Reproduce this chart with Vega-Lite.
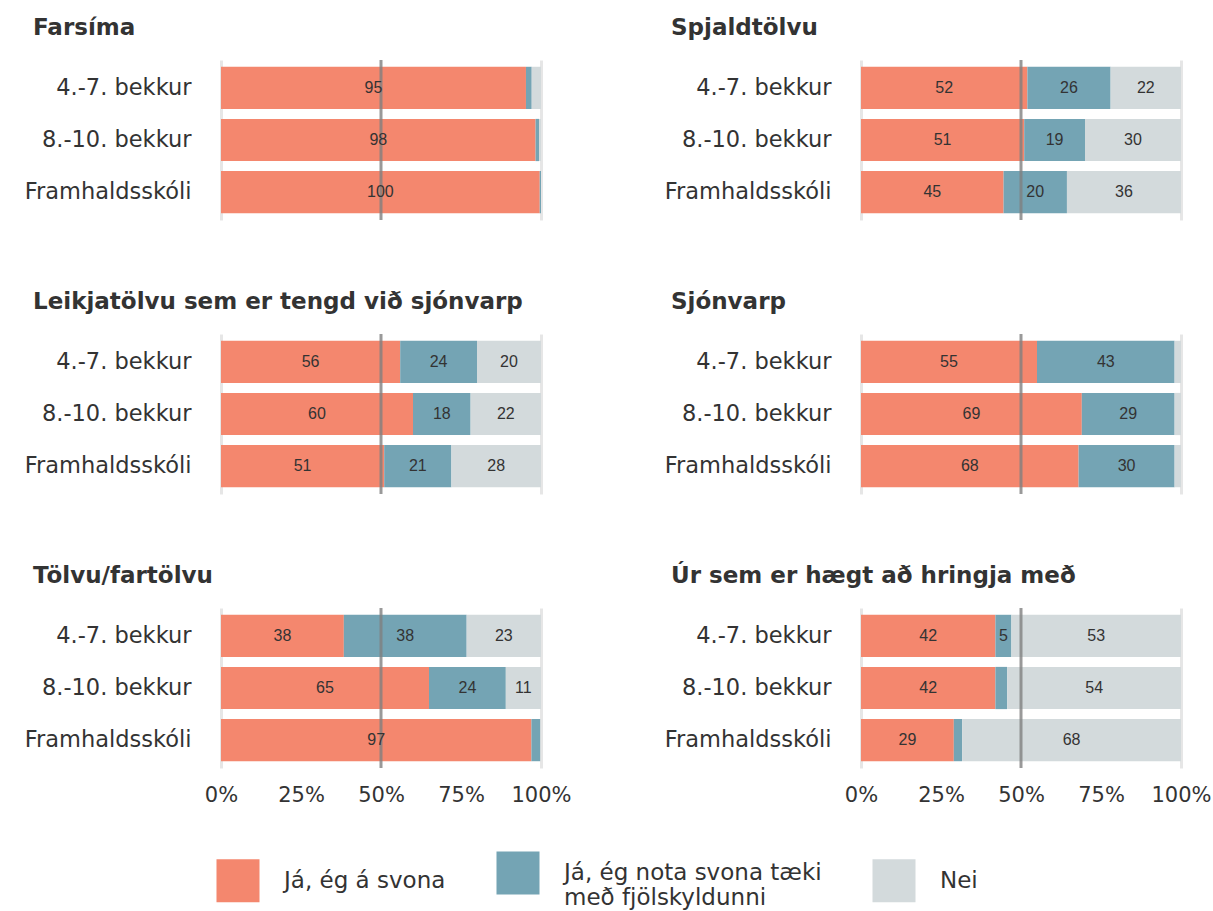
{
  "$schema": "https://vega.github.io/schema/vega-lite/v6.json",
  "padding": {"left": 10, "top": 16, "right": 20, "bottom": 10},
  "background": "white",
  "data": {"values": [
    {"taeki": "Farsíma", "hopur": "4.-7. bekkur", "svar": "Já, ég á svona", "v": 95.3},
    {"taeki": "Farsíma", "hopur": "4.-7. bekkur", "svar": "Já, ég nota svona tæki með fjölskyldunni", "v": 1.8},
    {"taeki": "Farsíma", "hopur": "4.-7. bekkur", "svar": "Nei", "v": 2.9},
    {"taeki": "Farsíma", "hopur": "8.-10. bekkur", "svar": "Já, ég á svona", "v": 98.3},
    {"taeki": "Farsíma", "hopur": "8.-10. bekkur", "svar": "Já, ég nota svona tæki með fjölskyldunni", "v": 1.1},
    {"taeki": "Farsíma", "hopur": "8.-10. bekkur", "svar": "Nei", "v": 0.6},
    {"taeki": "Farsíma", "hopur": "Framhaldsskóli", "svar": "Já, ég á svona", "v": 99.6},
    {"taeki": "Farsíma", "hopur": "Framhaldsskóli", "svar": "Já, ég nota svona tæki með fjölskyldunni", "v": 0.4},
    {"taeki": "Farsíma", "hopur": "Framhaldsskóli", "svar": "Nei", "v": 0},
    {"taeki": "Spjaldtölvu", "hopur": "4.-7. bekkur", "svar": "Já, ég á svona", "v": 52},
    {"taeki": "Spjaldtölvu", "hopur": "4.-7. bekkur", "svar": "Já, ég nota svona tæki með fjölskyldunni", "v": 26},
    {"taeki": "Spjaldtölvu", "hopur": "4.-7. bekkur", "svar": "Nei", "v": 22},
    {"taeki": "Spjaldtölvu", "hopur": "8.-10. bekkur", "svar": "Já, ég á svona", "v": 51},
    {"taeki": "Spjaldtölvu", "hopur": "8.-10. bekkur", "svar": "Já, ég nota svona tæki með fjölskyldunni", "v": 19},
    {"taeki": "Spjaldtölvu", "hopur": "8.-10. bekkur", "svar": "Nei", "v": 30},
    {"taeki": "Spjaldtölvu", "hopur": "Framhaldsskóli", "svar": "Já, ég á svona", "v": 45},
    {"taeki": "Spjaldtölvu", "hopur": "Framhaldsskóli", "svar": "Já, ég nota svona tæki með fjölskyldunni", "v": 20},
    {"taeki": "Spjaldtölvu", "hopur": "Framhaldsskóli", "svar": "Nei", "v": 36},
    {"taeki": "Leikjatölvu sem er tengd við sjónvarp", "hopur": "4.-7. bekkur", "svar": "Já, ég á svona", "v": 56},
    {"taeki": "Leikjatölvu sem er tengd við sjónvarp", "hopur": "4.-7. bekkur", "svar": "Já, ég nota svona tæki með fjölskyldunni", "v": 24},
    {"taeki": "Leikjatölvu sem er tengd við sjónvarp", "hopur": "4.-7. bekkur", "svar": "Nei", "v": 20},
    {"taeki": "Leikjatölvu sem er tengd við sjónvarp", "hopur": "8.-10. bekkur", "svar": "Já, ég á svona", "v": 60},
    {"taeki": "Leikjatölvu sem er tengd við sjónvarp", "hopur": "8.-10. bekkur", "svar": "Já, ég nota svona tæki með fjölskyldunni", "v": 18},
    {"taeki": "Leikjatölvu sem er tengd við sjónvarp", "hopur": "8.-10. bekkur", "svar": "Nei", "v": 22},
    {"taeki": "Leikjatölvu sem er tengd við sjónvarp", "hopur": "Framhaldsskóli", "svar": "Já, ég á svona", "v": 51},
    {"taeki": "Leikjatölvu sem er tengd við sjónvarp", "hopur": "Framhaldsskóli", "svar": "Já, ég nota svona tæki með fjölskyldunni", "v": 21},
    {"taeki": "Leikjatölvu sem er tengd við sjónvarp", "hopur": "Framhaldsskóli", "svar": "Nei", "v": 28},
    {"taeki": "Sjónvarp", "hopur": "4.-7. bekkur", "svar": "Já, ég á svona", "v": 55},
    {"taeki": "Sjónvarp", "hopur": "4.-7. bekkur", "svar": "Já, ég nota svona tæki með fjölskyldunni", "v": 43},
    {"taeki": "Sjónvarp", "hopur": "4.-7. bekkur", "svar": "Nei", "v": 2},
    {"taeki": "Sjónvarp", "hopur": "8.-10. bekkur", "svar": "Já, ég á svona", "v": 69},
    {"taeki": "Sjónvarp", "hopur": "8.-10. bekkur", "svar": "Já, ég nota svona tæki með fjölskyldunni", "v": 29},
    {"taeki": "Sjónvarp", "hopur": "8.-10. bekkur", "svar": "Nei", "v": 2},
    {"taeki": "Sjónvarp", "hopur": "Framhaldsskóli", "svar": "Já, ég á svona", "v": 68},
    {"taeki": "Sjónvarp", "hopur": "Framhaldsskóli", "svar": "Já, ég nota svona tæki með fjölskyldunni", "v": 30},
    {"taeki": "Sjónvarp", "hopur": "Framhaldsskóli", "svar": "Nei", "v": 2},
    {"taeki": "Tölvu/fartölvu", "hopur": "4.-7. bekkur", "svar": "Já, ég á svona", "v": 38},
    {"taeki": "Tölvu/fartölvu", "hopur": "4.-7. bekkur", "svar": "Já, ég nota svona tæki með fjölskyldunni", "v": 38},
    {"taeki": "Tölvu/fartölvu", "hopur": "4.-7. bekkur", "svar": "Nei", "v": 23},
    {"taeki": "Tölvu/fartölvu", "hopur": "8.-10. bekkur", "svar": "Já, ég á svona", "v": 65},
    {"taeki": "Tölvu/fartölvu", "hopur": "8.-10. bekkur", "svar": "Já, ég nota svona tæki með fjölskyldunni", "v": 24},
    {"taeki": "Tölvu/fartölvu", "hopur": "8.-10. bekkur", "svar": "Nei", "v": 11},
    {"taeki": "Tölvu/fartölvu", "hopur": "Framhaldsskóli", "svar": "Já, ég á svona", "v": 97},
    {"taeki": "Tölvu/fartölvu", "hopur": "Framhaldsskóli", "svar": "Já, ég nota svona tæki með fjölskyldunni", "v": 2.7},
    {"taeki": "Tölvu/fartölvu", "hopur": "Framhaldsskóli", "svar": "Nei", "v": 0.3},
    {"taeki": "Úr sem er hægt að hringja með", "hopur": "4.-7. bekkur", "svar": "Já, ég á svona", "v": 42},
    {"taeki": "Úr sem er hægt að hringja með", "hopur": "4.-7. bekkur", "svar": "Já, ég nota svona tæki með fjölskyldunni", "v": 5},
    {"taeki": "Úr sem er hægt að hringja með", "hopur": "4.-7. bekkur", "svar": "Nei", "v": 53},
    {"taeki": "Úr sem er hægt að hringja með", "hopur": "8.-10. bekkur", "svar": "Já, ég á svona", "v": 42},
    {"taeki": "Úr sem er hægt að hringja með", "hopur": "8.-10. bekkur", "svar": "Já, ég nota svona tæki með fjölskyldunni", "v": 3.7},
    {"taeki": "Úr sem er hægt að hringja með", "hopur": "8.-10. bekkur", "svar": "Nei", "v": 54.3},
    {"taeki": "Úr sem er hægt að hringja með", "hopur": "Framhaldsskóli", "svar": "Já, ég á svona", "v": 29},
    {"taeki": "Úr sem er hægt að hringja með", "hopur": "Framhaldsskóli", "svar": "Já, ég nota svona tæki með fjölskyldunni", "v": 2.6},
    {"taeki": "Úr sem er hægt að hringja með", "hopur": "Framhaldsskóli", "svar": "Nei", "v": 68.4}
  ]},
  "transform": [
    {"calculate": "indexof(['Já, ég á svona', 'Já, ég nota svona tæki með fjölskyldunni', 'Nei'], datum.svar)", "as": "ord"},
    {"stack": "v", "groupby": ["taeki", "hopur"], "sort": [{"field": "ord", "order": "ascending"}], "offset": "normalize", "as": ["x0", "x1"]},
    {"calculate": "(datum.x0 + datum.x1) / 2", "as": "mid"}
  ],
  "columns": 2,
  "spacing": {"row": 68, "column": 78},
  "concat": [
    {
      "title": {"text": "Farsíma", "dx": 23},
      "width": 320, "height": 160,
      "transform": [{"filter": "datum.taeki == 'Farsíma'"}],
      "layer": [
        {"mark": {"type": "bar"},
         "encoding": {
           "y": {"field": "hopur", "type": "nominal", "sort": ["4.-7. bekkur", "8.-10. bekkur", "Framhaldsskóli"], "scale": {"paddingInner": 0.19, "paddingOuter": 0.13}},
           "x": {"field": "x0", "type": "quantitative", "scale": {"domain": [0, 1]}, "axis": {"values": [0, 0.25, 0.5, 0.75, 1], "format": ".0%", "labels": false, "gridOpacity": {"condition": {"test": "datum.value == 0 || datum.value == 1", "value": 1}, "value": 0}}},
           "x2": {"field": "x1"},
           "color": {"field": "svar", "type": "nominal", "scale": {"domain": ["Já, ég á svona", "Já, ég nota svona tæki með fjölskyldunni", "Nei"], "range": ["#f4876e", "#74a4b4", "#d3dadc"]}, "legend": {"title": null, "labelExpr": "indexof(datum.label, 'nota') >= 0 ? ['Já, ég nota svona tæki', 'með fjölskyldunni'] : datum.label"}}
         }},
        {"data": {"values": [{}]}, "mark": {"type": "rule", "color": "#808080", "strokeWidth": 3, "opacity": 0.8}, "encoding": {"x": {"datum": 0.5}}},
        {"transform": [{"filter": "datum.v >= 4.5"}], "mark": {"type": "text", "font": "Liberation Sans", "fontSize": 16, "color": "#333333"},
         "encoding": {
           "y": {"field": "hopur", "type": "nominal", "sort": ["4.-7. bekkur", "8.-10. bekkur", "Framhaldsskóli"]},
           "x": {"field": "mid", "type": "quantitative"},
           "text": {"field": "v", "type": "quantitative", "format": ".0f"}
         }}
      ]
    },
    {
      "title": {"text": "Spjaldtölvu", "dx": 21},
      "width": 320, "height": 160,
      "transform": [{"filter": "datum.taeki == 'Spjaldtölvu'"}],
      "layer": [
        {"mark": {"type": "bar"},
         "encoding": {
           "y": {"field": "hopur", "type": "nominal", "sort": ["4.-7. bekkur", "8.-10. bekkur", "Framhaldsskóli"], "scale": {"paddingInner": 0.19, "paddingOuter": 0.13}},
           "x": {"field": "x0", "type": "quantitative", "scale": {"domain": [0, 1]}, "axis": {"values": [0, 0.25, 0.5, 0.75, 1], "format": ".0%", "labels": false, "gridOpacity": {"condition": {"test": "datum.value == 0 || datum.value == 1", "value": 1}, "value": 0}}},
           "x2": {"field": "x1"},
           "color": {"field": "svar", "type": "nominal", "scale": {"domain": ["Já, ég á svona", "Já, ég nota svona tæki með fjölskyldunni", "Nei"], "range": ["#f4876e", "#74a4b4", "#d3dadc"]}, "legend": {"title": null, "labelExpr": "indexof(datum.label, 'nota') >= 0 ? ['Já, ég nota svona tæki', 'með fjölskyldunni'] : datum.label"}}
         }},
        {"data": {"values": [{}]}, "mark": {"type": "rule", "color": "#808080", "strokeWidth": 3, "opacity": 0.8}, "encoding": {"x": {"datum": 0.5}}},
        {"transform": [{"filter": "datum.v >= 4.5"}], "mark": {"type": "text", "font": "Liberation Sans", "fontSize": 16, "color": "#333333"},
         "encoding": {
           "y": {"field": "hopur", "type": "nominal", "sort": ["4.-7. bekkur", "8.-10. bekkur", "Framhaldsskóli"]},
           "x": {"field": "mid", "type": "quantitative"},
           "text": {"field": "v", "type": "quantitative", "format": ".0f"}
         }}
      ]
    },
    {
      "title": {"text": "Leikjatölvu sem er tengd við sjónvarp", "dx": 23},
      "width": 320, "height": 160,
      "transform": [{"filter": "datum.taeki == 'Leikjatölvu sem er tengd við sjónvarp'"}],
      "layer": [
        {"mark": {"type": "bar"},
         "encoding": {
           "y": {"field": "hopur", "type": "nominal", "sort": ["4.-7. bekkur", "8.-10. bekkur", "Framhaldsskóli"], "scale": {"paddingInner": 0.19, "paddingOuter": 0.13}},
           "x": {"field": "x0", "type": "quantitative", "scale": {"domain": [0, 1]}, "axis": {"values": [0, 0.25, 0.5, 0.75, 1], "format": ".0%", "labels": false, "gridOpacity": {"condition": {"test": "datum.value == 0 || datum.value == 1", "value": 1}, "value": 0}}},
           "x2": {"field": "x1"},
           "color": {"field": "svar", "type": "nominal", "scale": {"domain": ["Já, ég á svona", "Já, ég nota svona tæki með fjölskyldunni", "Nei"], "range": ["#f4876e", "#74a4b4", "#d3dadc"]}, "legend": {"title": null, "labelExpr": "indexof(datum.label, 'nota') >= 0 ? ['Já, ég nota svona tæki', 'með fjölskyldunni'] : datum.label"}}
         }},
        {"data": {"values": [{}]}, "mark": {"type": "rule", "color": "#808080", "strokeWidth": 3, "opacity": 0.8}, "encoding": {"x": {"datum": 0.5}}},
        {"transform": [{"filter": "datum.v >= 4.5"}], "mark": {"type": "text", "font": "Liberation Sans", "fontSize": 16, "color": "#333333"},
         "encoding": {
           "y": {"field": "hopur", "type": "nominal", "sort": ["4.-7. bekkur", "8.-10. bekkur", "Framhaldsskóli"]},
           "x": {"field": "mid", "type": "quantitative"},
           "text": {"field": "v", "type": "quantitative", "format": ".0f"}
         }}
      ]
    },
    {
      "title": {"text": "Sjónvarp", "dx": 21},
      "width": 320, "height": 160,
      "transform": [{"filter": "datum.taeki == 'Sjónvarp'"}],
      "layer": [
        {"mark": {"type": "bar"},
         "encoding": {
           "y": {"field": "hopur", "type": "nominal", "sort": ["4.-7. bekkur", "8.-10. bekkur", "Framhaldsskóli"], "scale": {"paddingInner": 0.19, "paddingOuter": 0.13}},
           "x": {"field": "x0", "type": "quantitative", "scale": {"domain": [0, 1]}, "axis": {"values": [0, 0.25, 0.5, 0.75, 1], "format": ".0%", "labels": false, "gridOpacity": {"condition": {"test": "datum.value == 0 || datum.value == 1", "value": 1}, "value": 0}}},
           "x2": {"field": "x1"},
           "color": {"field": "svar", "type": "nominal", "scale": {"domain": ["Já, ég á svona", "Já, ég nota svona tæki með fjölskyldunni", "Nei"], "range": ["#f4876e", "#74a4b4", "#d3dadc"]}, "legend": {"title": null, "labelExpr": "indexof(datum.label, 'nota') >= 0 ? ['Já, ég nota svona tæki', 'með fjölskyldunni'] : datum.label"}}
         }},
        {"data": {"values": [{}]}, "mark": {"type": "rule", "color": "#808080", "strokeWidth": 3, "opacity": 0.8}, "encoding": {"x": {"datum": 0.5}}},
        {"transform": [{"filter": "datum.v >= 4.5"}], "mark": {"type": "text", "font": "Liberation Sans", "fontSize": 16, "color": "#333333"},
         "encoding": {
           "y": {"field": "hopur", "type": "nominal", "sort": ["4.-7. bekkur", "8.-10. bekkur", "Framhaldsskóli"]},
           "x": {"field": "mid", "type": "quantitative"},
           "text": {"field": "v", "type": "quantitative", "format": ".0f"}
         }}
      ]
    },
    {
      "title": {"text": "Tölvu/fartölvu", "dx": 23},
      "width": 320, "height": 160,
      "transform": [{"filter": "datum.taeki == 'Tölvu/fartölvu'"}],
      "layer": [
        {"mark": {"type": "bar"},
         "encoding": {
           "y": {"field": "hopur", "type": "nominal", "sort": ["4.-7. bekkur", "8.-10. bekkur", "Framhaldsskóli"], "scale": {"paddingInner": 0.19, "paddingOuter": 0.13}},
           "x": {"field": "x0", "type": "quantitative", "scale": {"domain": [0, 1]}, "axis": {"values": [0, 0.25, 0.5, 0.75, 1], "format": ".0%", "labels": true, "gridOpacity": {"condition": {"test": "datum.value == 0 || datum.value == 1", "value": 1}, "value": 0}}},
           "x2": {"field": "x1"},
           "color": {"field": "svar", "type": "nominal", "scale": {"domain": ["Já, ég á svona", "Já, ég nota svona tæki með fjölskyldunni", "Nei"], "range": ["#f4876e", "#74a4b4", "#d3dadc"]}, "legend": {"title": null, "labelExpr": "indexof(datum.label, 'nota') >= 0 ? ['Já, ég nota svona tæki', 'með fjölskyldunni'] : datum.label"}}
         }},
        {"data": {"values": [{}]}, "mark": {"type": "rule", "color": "#808080", "strokeWidth": 3, "opacity": 0.8}, "encoding": {"x": {"datum": 0.5}}},
        {"transform": [{"filter": "datum.v >= 4.5"}], "mark": {"type": "text", "font": "Liberation Sans", "fontSize": 16, "color": "#333333"},
         "encoding": {
           "y": {"field": "hopur", "type": "nominal", "sort": ["4.-7. bekkur", "8.-10. bekkur", "Framhaldsskóli"]},
           "x": {"field": "mid", "type": "quantitative"},
           "text": {"field": "v", "type": "quantitative", "format": ".0f"}
         }}
      ]
    },
    {
      "title": {"text": "Úr sem er hægt að hringja með", "dx": 21},
      "width": 320, "height": 160,
      "transform": [{"filter": "datum.taeki == 'Úr sem er hægt að hringja með'"}],
      "layer": [
        {"mark": {"type": "bar"},
         "encoding": {
           "y": {"field": "hopur", "type": "nominal", "sort": ["4.-7. bekkur", "8.-10. bekkur", "Framhaldsskóli"], "scale": {"paddingInner": 0.19, "paddingOuter": 0.13}},
           "x": {"field": "x0", "type": "quantitative", "scale": {"domain": [0, 1]}, "axis": {"values": [0, 0.25, 0.5, 0.75, 1], "format": ".0%", "labels": true, "gridOpacity": {"condition": {"test": "datum.value == 0 || datum.value == 1", "value": 1}, "value": 0}}},
           "x2": {"field": "x1"},
           "color": {"field": "svar", "type": "nominal", "scale": {"domain": ["Já, ég á svona", "Já, ég nota svona tæki með fjölskyldunni", "Nei"], "range": ["#f4876e", "#74a4b4", "#d3dadc"]}, "legend": {"title": null, "labelExpr": "indexof(datum.label, 'nota') >= 0 ? ['Já, ég nota svona tæki', 'með fjölskyldunni'] : datum.label"}}
         }},
        {"data": {"values": [{}]}, "mark": {"type": "rule", "color": "#808080", "strokeWidth": 3, "opacity": 0.8}, "encoding": {"x": {"datum": 0.5}}},
        {"transform": [{"filter": "datum.v >= 4.5"}], "mark": {"type": "text", "font": "Liberation Sans", "fontSize": 16, "color": "#333333"},
         "encoding": {
           "y": {"field": "hopur", "type": "nominal", "sort": ["4.-7. bekkur", "8.-10. bekkur", "Framhaldsskóli"]},
           "x": {"field": "mid", "type": "quantitative"},
           "text": {"field": "v", "type": "quantitative", "format": ".0f"}
         }}
      ]
    }
  ],
  "config": {
    "view": {"stroke": null},
    "font": "DejaVu Sans",
    "title": {"anchor": "start", "fontSize": 23, "font": "DejaVu Sans", "fontWeight": "bold", "color": "#333333", "offset": 19},
    "axisY": {"title": null, "labelFontSize": 22.5, "labelPadding": 30, "minExtent": 211, "ticks": false, "domain": false, "labelColor": "#333333", "labelFont": "DejaVu Sans", "grid": false},
    "axisX": {"title": null, "labelFontSize": 21, "labelPadding": 16, "ticks": false, "domain": false, "labelColor": "#333333", "labelFont": "DejaVu Sans", "labelFlush": false, "grid": true, "gridColor": "#e6e6e6", "gridWidth": 3},
    "legend": {
      "orient": "none", "legendX": -5, "legendY": 791,
      "direction": "horizontal",
      "symbolType": "square", "symbolSize": 1850, "symbolStrokeWidth": 0, "symbolOpacity": 1,
      "labelFontSize": 23, "labelFont": "DejaVu Sans", "labelColor": "#333333", "labelLimit": 300, "labelOffset": 24,
      "columnPadding": 50
    }
  }
}
